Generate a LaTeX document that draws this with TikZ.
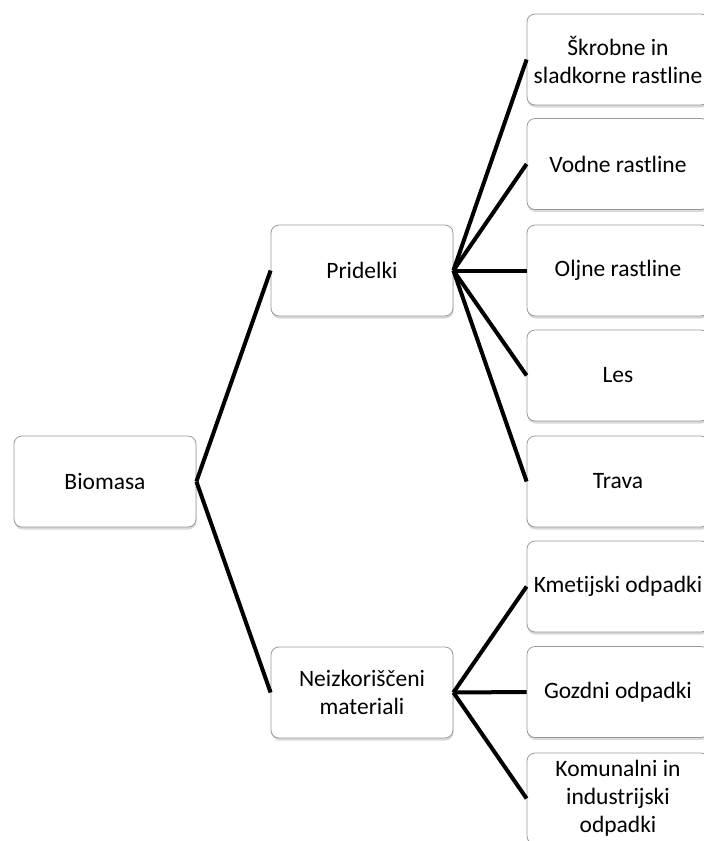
\documentclass[tikz,border=0pt]{standalone}
\usepackage{fontspec}
\setmainfont[Ligatures={NoCommon}]{Carlito}
\usetikzlibrary{shadows}

\begin{document}
\begin{tikzpicture}[x=1pt,y=-1pt]
    \tikzstyle{every node}+=[font=\fontsize{23.5}{28}\selectfont]
    \tikzstyle{box}=[draw=black!40, line width=0.8pt, fill=white, rounded corners=8pt, minimum width=182pt, minimum height=91pt, inner sep=0pt, align=center, drop shadow={shadow xshift=0.5pt, shadow yshift=-2.5pt, opacity=0.3}]
    \tikzstyle{link}=[black, line width=4pt]
    \useasboundingbox (0,0) rectangle (704,841);
    \node [box] (biomasa) at (105,481.5) {Biomasa};
    \node [box] (pridelki) at (362,270.5) {Pridelki};
    \node [box] (neizkor) at (362,692.5) {Neizkoriščeni\\materiali};
    \node [box] (skrobne) at (618,59.5) {Škrobne in\\sladkorne rastline};
    \node [box] (vodne) at (618,164) {Vodne rastline};
    \node [box] (oljne) at (618,270.5) {Oljne rastline};
    \node [box] (les) at (618,375.5) {Les};
    \node [box] (trava) at (618,481.5) {Trava};
    \node [box] (kmetijski) at (618,586.5) {Kmetijski odpadki};
    \node [box] (gozdni) at (618,692) {Gozdni odpadki};
    \node [box] (komunalni) at (618,798.5) {Komunalni in\\industrijski\\odpadki};
    \draw [link] (biomasa.east) -- (pridelki.west);
    \draw [link] (biomasa.east) -- (neizkor.west);
    \draw [link] (pridelki.east) -- (skrobne.west);
    \draw [link] (pridelki.east) -- (vodne.west);
    \draw [link] (pridelki.east) -- (oljne.west);
    \draw [link] (pridelki.east) -- (les.west);
    \draw [link] (pridelki.east) -- (trava.west);
    \draw [link] (neizkor.east) -- (kmetijski.west);
    \draw [link] (neizkor.east) -- (gozdni.west);
    \draw [link] (neizkor.east) -- (komunalni.west);
\end{tikzpicture}
\end{document}
